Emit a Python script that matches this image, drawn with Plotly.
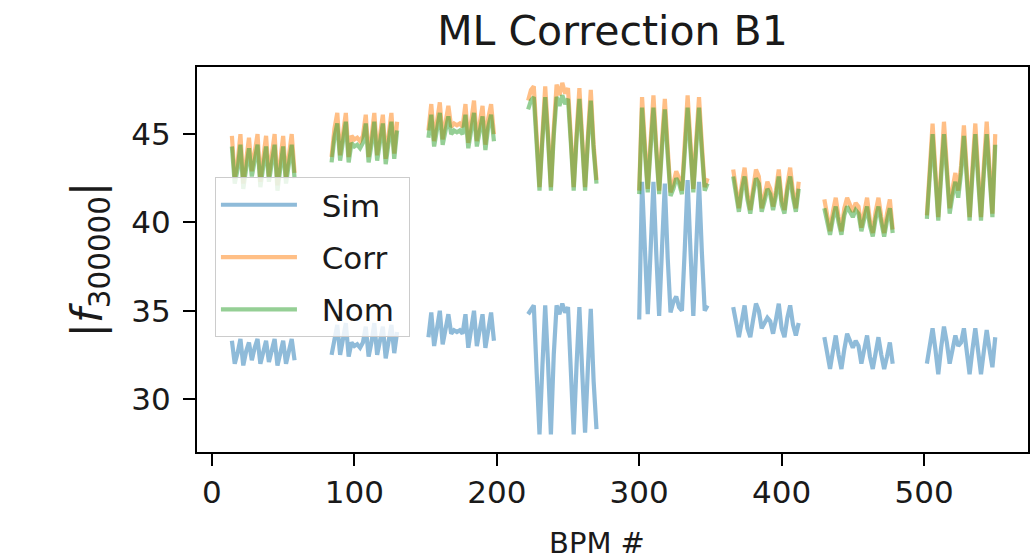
import plotly.graph_objects as go

# BPM segments (8 arcs), sampled every 2 BPMs
seg_start = [14, 84, 152, 222, 300, 366, 430, 502]
bpm_step = 2

sim_segments = [
    [33.3, 32.0, 32.6, 33.4, 31.9, 32.7, 33.2, 32.2, 32.9, 33.4, 32.0, 32.6, 33.3, 32.1, 32.8, 33.4, 31.9, 32.6, 33.3, 32.0, 32.7, 33.4, 32.2],
    [32.5, 33.5, 34.2, 32.5, 33.3, 34.3, 32.4, 33.2, 33.0, 33.1, 32.9, 33.2, 34.1, 32.4, 33.2, 34.3, 32.5, 33.3, 34.1, 32.3, 33.3, 34.2, 32.6, 33.8],
    [33.5, 34.9, 33.0, 33.9, 35.0, 33.1, 34.0, 34.8, 33.7, 33.9, 33.8, 33.9, 33.7, 34.8, 32.9, 34.0, 35.0, 33.0, 33.9, 34.8, 32.9, 34.1, 34.9, 33.3],
    [34.8, 35.1, 35.3, 31.5, 28.0, 31.8, 35.3, 32.0, 28.0, 32.5, 35.3, 34.8, 35.4, 34.9, 35.2, 31.6, 28.0, 31.9, 35.2, 31.5, 28.1, 31.8, 35.1, 31.0, 28.3],
    [34.5, 42.3, 38.5, 34.8, 38.4, 42.3, 38.2, 34.7, 38.5, 42.2, 38.0, 34.9, 35.5, 35.8, 35.2, 35.0, 38.5, 42.4, 38.4, 34.7, 38.5, 42.3, 38.3, 35.0, 35.3],
    [35.2, 34.2, 33.5, 34.4, 35.3, 34.0, 33.5, 34.5, 35.4, 35.0, 34.0, 34.3, 34.6, 34.4, 33.7, 34.5, 35.4, 34.0, 33.5, 34.6, 35.3, 34.2, 33.6, 34.3],
    [33.5, 32.5, 31.7, 32.7, 33.6, 32.5, 31.7, 32.8, 33.7, 33.3, 32.9, 33.3, 33.0, 32.0, 32.8, 33.6, 32.4, 31.7, 32.6, 33.5, 32.5, 31.7, 32.4, 33.2, 32.0],
    [32.0, 33.0, 34.0, 32.8, 31.4, 32.9, 34.1, 33.2, 32.0, 32.8, 33.6, 33.0, 33.2, 34.0, 32.6, 31.4, 32.8, 34.0, 32.7, 31.4, 32.7, 33.9, 32.8, 31.8, 33.5],
]

corr_segments = [
    [44.9, 42.5, 43.4, 45.0, 42.2, 43.6, 44.8, 42.9, 44.0, 45.0, 42.3, 43.5, 44.9, 42.6, 43.8, 45.0, 42.1, 43.4, 44.9, 42.5, 43.7, 45.0, 42.8],
    [43.7, 45.3, 46.2, 43.8, 45.0, 46.2, 43.7, 44.9, 44.7, 44.8, 44.6, 44.9, 46.1, 43.7, 44.8, 46.2, 43.8, 44.9, 46.1, 43.6, 45.0, 46.2, 43.9, 45.7],
    [45.2, 46.7, 44.6, 45.7, 46.8, 44.7, 45.8, 46.6, 45.4, 45.6, 45.5, 45.6, 45.4, 46.7, 44.5, 45.8, 46.9, 44.6, 45.7, 46.6, 44.4, 45.9, 46.7, 45.0],
    [46.9, 47.5, 47.7, 44.8, 42.0, 44.9, 47.7, 45.0, 42.0, 45.3, 47.8, 47.2, 47.9, 47.3, 47.6, 44.8, 42.0, 45.0, 47.6, 44.7, 42.0, 44.9, 47.5, 44.4, 42.4],
    [41.8, 47.1, 44.4, 41.9, 44.6, 47.2, 44.3, 41.8, 44.6, 47.0, 44.2, 41.7, 42.2, 42.9, 42.5, 41.8, 44.5, 47.2, 44.5, 41.9, 44.6, 47.1, 44.4, 42.0, 42.5],
    [43.0, 41.8, 40.8, 42.1, 43.1, 41.6, 40.7, 41.9, 43.0, 42.6, 40.8, 41.5, 42.3, 41.9, 40.9, 41.8, 43.0, 41.3, 40.7, 42.1, 43.1, 41.7, 40.8, 42.3],
    [41.3, 40.3, 39.5, 40.6, 41.4, 40.3, 39.5, 40.8, 41.4, 41.0, 40.6, 41.1, 40.9, 39.7, 40.7, 41.4, 40.1, 39.4, 40.6, 41.4, 40.3, 39.4, 40.5, 41.3, 39.6],
    [40.4, 43.2, 45.6, 42.9, 40.3, 43.0, 45.7, 43.2, 40.8, 41.9, 42.8, 41.8, 43.2, 45.5, 42.8, 40.3, 43.1, 45.6, 42.8, 40.3, 43.2, 45.7, 43.0, 40.5, 45.0],
]

nom_segments = [
    [44.3, 42.2, 43.0, 44.4, 41.9, 43.2, 44.2, 42.6, 43.6, 44.4, 42.0, 43.1, 44.3, 42.3, 43.4, 44.4, 41.8, 43.0, 44.3, 42.2, 43.3, 44.4, 42.5],
    [43.4, 44.8, 45.6, 43.5, 44.6, 45.7, 43.4, 44.5, 44.3, 44.4, 44.2, 44.5, 45.6, 43.4, 44.4, 45.7, 43.5, 44.5, 45.6, 43.3, 44.6, 45.7, 43.6, 45.2],
    [44.8, 46.1, 44.3, 45.2, 46.2, 44.4, 45.3, 46.0, 45.0, 45.2, 45.1, 45.2, 45.0, 46.1, 44.2, 45.3, 46.2, 44.3, 45.2, 46.0, 44.1, 45.4, 46.1, 44.6],
    [46.4, 46.9, 47.1, 44.5, 41.8, 44.6, 47.1, 44.7, 41.8, 44.9, 47.1, 46.6, 47.2, 46.7, 47.0, 44.5, 41.8, 44.7, 47.0, 44.4, 41.8, 44.6, 46.9, 44.1, 42.2],
    [41.6, 46.5, 44.0, 41.7, 44.2, 46.5, 44.0, 41.6, 44.2, 46.4, 43.8, 41.5, 41.9, 42.5, 42.2, 41.6, 44.0, 46.5, 44.1, 41.7, 44.2, 46.5, 44.0, 41.8, 42.2],
    [42.6, 41.5, 40.6, 41.8, 42.6, 41.3, 40.5, 41.6, 42.5, 42.2, 40.6, 41.2, 41.9, 41.6, 40.7, 41.5, 42.6, 41.0, 40.5, 41.8, 42.6, 41.4, 40.6, 41.9],
    [40.8, 40.0, 39.3, 40.2, 40.9, 40.0, 39.3, 40.4, 40.9, 40.6, 40.3, 40.7, 40.5, 39.5, 40.3, 40.9, 39.8, 39.2, 40.2, 40.9, 40.0, 39.2, 40.1, 40.8, 39.4],
    [40.2, 42.8, 45.0, 42.5, 40.1, 42.6, 45.0, 42.8, 40.5, 41.5, 42.3, 41.4, 42.8, 44.9, 42.4, 40.1, 42.7, 45.0, 42.4, 40.1, 42.8, 45.0, 42.6, 40.3, 44.4],
]

x_ticks = [0, 100, 200, 300, 400, 500]
y_ticks = [30, 35, 40, 45]


def join_segments(segments):
    xs, ys = [], []
    for start, vals in zip(seg_start, segments):
        xs += [start + bpm_step * i for i in range(len(vals))] + [None]
        ys += list(vals) + [None]
    return xs, ys


series = [
    ("Sim", sim_segments, "rgba(31,119,180,0.5)"),
    ("Corr", corr_segments, "rgba(255,127,14,0.5)"),
    ("Nom", nom_segments, "rgba(44,160,44,0.5)"),
]

fig = go.Figure()
for name, segs, color in series:
    xs, ys = join_segments(segs)
    fig.add_trace(go.Scatter(x=xs, y=ys, mode="lines",
                             name="\u00a0\u00a0" + name + "\u00a0", legendgroup=name,
                             line=dict(color=color, width=4.2),
                             connectgaps=False))

font_family = "DejaVu Sans"
text_color = "#1a1a1a"
axis_common = dict(showline=True, linecolor="black", linewidth=2, mirror=True,
                   ticks="outside", ticklen=12, tickwidth=2, tickcolor="black",
                   showgrid=False, zeroline=False,
                   tickfont=dict(family=font_family, size=31, color=text_color))

fig.update_layout(
    width=1031, height=560,
    margin=dict(l=197, r=1, t=67, b=108),
    paper_bgcolor="white", plot_bgcolor="white",
    title=dict(text="ML Correction B1", x=0.5, xref="paper", xanchor="center",
               y=1 - 31 / 560, yref="container", yanchor="middle",
               font=dict(family=font_family, size=41, color=text_color)),
    xaxis=dict(range=[-10.5, 573], tickvals=x_ticks, **axis_common),
    yaxis=dict(range=[27.0, 48.8], tickvals=y_ticks, ticklabelstandoff=6,
               title=dict(text="|<i>f</i><sub>300000</sub>|", standoff=16,
                          font=dict(family=font_family, size=42, color=text_color)),
               **axis_common),
    legend=dict(x=0.0216, y=0.714, xanchor="left", yanchor="top",
                bgcolor="rgba(255,255,255,0.8)", bordercolor="#cccccc", borderwidth=1,
                font=dict(family=font_family, size=31, color=text_color),
                itemwidth=76, tracegroupgap=9),
    annotations=[dict(text="BPM #", xref="paper", yref="paper",
                      x=0.481, y=-0.236, xanchor="center", yanchor="middle",
                      showarrow=False,
                      font=dict(family=font_family, size=29, color=text_color))],
    showlegend=True,
)

fig.write_html("out.html")
